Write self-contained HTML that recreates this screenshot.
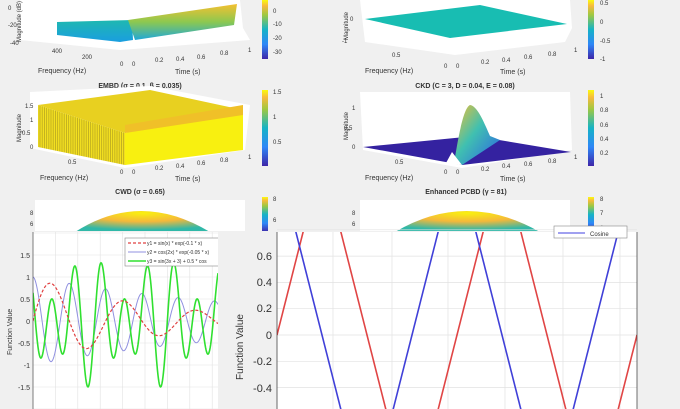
<!DOCTYPE html>
<html><head><meta charset="utf-8"><style>
html,body{margin:0;padding:0;background:#f0f0f0;overflow:hidden;width:680px;height:409px;}
svg{display:block;font-family:"Liberation Sans",sans-serif;}
</style></head><body>
<svg id="s" width="680" height="409" viewBox="0 0 680 409" xmlns="http://www.w3.org/2000/svg">
<defs>
<clipPath id="cpl"><rect x="33" y="232" width="185" height="177"/></clipPath>
<clipPath id="cpr"><rect x="277" y="232" width="360" height="177"/></clipPath>
<linearGradient id="parula" x1="0" y1="1" x2="0" y2="0">
<stop offset="0" stop-color="#3e26a8"/><stop offset="0.25" stop-color="#2e87f7"/><stop offset="0.5" stop-color="#15b3c6"/><stop offset="0.75" stop-color="#a0c840"/><stop offset="0.9" stop-color="#f7ba3d"/><stop offset="1" stop-color="#f9fb0e"/>
</linearGradient>
<linearGradient id="teal" x1="0" y1="0" x2="0" y2="1"><stop offset="0" stop-color="#1fb8b0"/><stop offset="1" stop-color="#1a9ee0"/></linearGradient>
<linearGradient id="orng" x1="0" y1="0" x2="0" y2="1"><stop offset="0" stop-color="#f5c030"/><stop offset="0.5" stop-color="#8cc850"/><stop offset="1" stop-color="#20a8d8"/></linearGradient>
<radialGradient id="dome" cx="0.5" cy="0.1" r="0.8"><stop offset="0" stop-color="#f9f010"/><stop offset="0.5" stop-color="#f5b83a"/><stop offset="1" stop-color="#30b8a8"/></radialGradient>
<linearGradient id="peak" x1="0" y1="0" x2="1" y2="1"><stop offset="0" stop-color="#f5c030"/><stop offset="0.45" stop-color="#40c0b0"/><stop offset="1" stop-color="#2a60e8"/></linearGradient>
<pattern id="stripe" width="2.2" height="10" patternUnits="userSpaceOnUse"><rect width="2.2" height="10" fill="#f4e020"/><rect width="0.8" height="10" fill="#b8a820"/></pattern>
</defs>
<g font-size="6" fill="#333">
<polygon points="20,0 240,0 243,28 250,40 120,50 20,40" fill="#fff"/>
<polygon points="57,22 132,20 133,40 120,42 57,35" fill="url(#teal)"/>
<polygon points="128,20 237,4 234,25 135,40" fill="url(#orng)"/>
<text x="10" y="45">-40</text><text x="8" y="10">0</text><text x="8" y="27">-20</text>
<text x="52" y="53">400</text><text x="82" y="59">200</text><text x="120" y="66">0</text><text x="132" y="66">0</text><text x="155" y="62">0.2</text><text x="176" y="61">0.4</text><text x="197" y="59">0.6</text><text x="220" y="55">0.8</text><text x="248" y="52">1</text>
<text x="38" y="73" font-size="7">Frequency (Hz)</text><text x="175" y="74" font-size="7">Time (s)</text>
<text transform="translate(21,42) rotate(-90)">Magnitude (dB)</text>
<rect x="262" y="0" width="6" height="59" fill="url(#parula)"/>
<text x="273" y="13">0</text><text x="273" y="26">-10</text><text x="273" y="40">-20</text><text x="273" y="54">-30</text>
<polygon points="360,0 570,0 572,28 565,42 455,55 365,42" fill="#fff"/>
<polygon points="365,19 480,5 567,24 450,38" fill="#18bdb2"/>
<text x="342" y="43">-1</text><text x="350" y="21">0</text><text x="392" y="57">0.5</text><text x="444" y="68">0</text><text x="456" y="68">0</text><text x="481" y="64">0.2</text><text x="502" y="62">0.4</text><text x="524" y="59">0.6</text><text x="548" y="56">0.8</text><text x="574" y="52">1</text>
<text x="365" y="73" font-size="7">Frequency (Hz)</text><text x="500" y="74" font-size="7">Time (s)</text>
<text transform="translate(348,40) rotate(-90)">Magnitude</text>
<rect x="588" y="0" width="6" height="59" fill="url(#parula)"/>
<text x="600" y="5">0.5</text><text x="600" y="24">0</text><text x="600" y="43">-0.5</text><text x="600" y="61">-1</text>
<text x="140" y="88" font-size="7" font-weight="bold" text-anchor="middle">EMBD (σ = 0.1, β = 0.035)</text>
<polygon points="30,92 150,86 250,105 245,150 125,168 30,148" fill="#fff"/>
<polygon points="38,105 150,90 243,110 125,133" fill="#e8d020"/>
<polygon points="38,105 125,133 125,165 38,147" fill="url(#stripe)"/>
<polygon points="125,133 243,110 243,150 125,165" fill="#f8f010"/>
<polygon points="125,125 243,105 243,115 125,133" fill="#f0c028"/>
<text x="25" y="108">1.5</text><text x="30" y="122">1</text><text x="22" y="135">0.5</text><text x="30" y="149">0</text>
<text x="68" y="164">0.5</text><text x="120" y="174">0</text><text x="132" y="174">0</text><text x="155" y="170">0.2</text><text x="176" y="168">0.4</text><text x="197" y="165">0.6</text><text x="220" y="162">0.8</text><text x="248" y="159">1</text>
<text x="40" y="180" font-size="7">Frequency (Hz)</text><text x="175" y="181" font-size="7">Time (s)</text>
<text transform="translate(21,142) rotate(-90)">Magnitude</text>
<rect x="262" y="90" width="6" height="76" fill="url(#parula)"/>
<text x="273" y="94">1.5</text><text x="273" y="119">1</text><text x="273" y="144">0.5</text>
<text x="465" y="88" font-size="7" font-weight="bold" text-anchor="middle">CKD (C = 3, D = 0.04, E = 0.08)</text>
<polygon points="360,92 570,92 572,150 462,168 363,150" fill="#fff"/>
<polygon points="363,147 475,136 571,152 462,165" fill="#3422a0"/>
<path d="M454,163 C458,140 463,108 470,105 C478,106 485,125 490,136 L500,140 L462,165 Z" fill="url(#peak)"/>
<polygon points="446,163 452,152 462,165" fill="#fff"/>
<text x="352" y="110">1</text><text x="344" y="130">0.5</text><text x="352" y="149">0</text>
<text x="395" y="164">0.5</text><text x="444" y="174">0</text><text x="456" y="174">0</text><text x="481" y="171">0.2</text><text x="502" y="168">0.4</text><text x="524" y="166">0.6</text><text x="548" y="163">0.8</text><text x="574" y="159">1</text>
<text x="365" y="180" font-size="7">Frequency (Hz)</text><text x="500" y="181" font-size="7">Time (s)</text>
<text transform="translate(348,140) rotate(-90)">Magnitude</text>
<rect x="588" y="90" width="6" height="76" fill="url(#parula)"/>
<text x="600" y="98">1</text><text x="600" y="112">0.8</text><text x="600" y="127">0.6</text><text x="600" y="141">0.4</text><text x="600" y="155">0.2</text>
<text x="140" y="194" font-size="7" font-weight="bold" text-anchor="middle">CWD (σ = 0.65)</text>
<text x="466" y="194" font-size="7" font-weight="bold" text-anchor="middle">Enhanced PCBD (γ = 81)</text>
<rect x="35" y="200" width="210" height="32" fill="#fff"/>
<rect x="360" y="200" width="210" height="32" fill="#fff"/>
<path d="M75,232 Q140,190 210,232 Z" fill="url(#dome)"/>
<path d="M395,232 Q466,190 540,232 Z" fill="url(#dome)"/>
<text x="30" y="215">8</text><text x="30" y="226">6</text><text x="352" y="215">8</text><text x="352" y="226">6</text>
<rect x="262" y="197" width="6" height="35" fill="url(#parula)"/>
<rect x="588" y="197" width="6" height="35" fill="url(#parula)"/>
<text x="273" y="201">8</text><text x="273" y="222">6</text><text x="600" y="201">8</text><text x="600" y="215">7</text><text x="600" y="230">6</text>
</g>
<rect x="0" y="231" width="230" height="178" fill="#f0f0f0"/>
<rect x="33" y="232" width="185" height="177" fill="#fff"/>
<g id="gl" stroke="#e2e2e2" stroke-width="0.6"></g>
<g font-size="7" fill="#333" text-anchor="end">
<text x="30" y="258">1.5</text><text x="30" y="280">1</text><text x="30" y="302">0.5</text><text x="30" y="324">0</text><text x="30" y="346">-0.5</text><text x="30" y="368">-1</text><text x="30" y="390">-1.5</text>
</g>
<text transform="translate(12,355) rotate(-90)" font-size="7" fill="#333">Function Value</text>
<g id="cl" clip-path="url(#cpl)"></g>
<rect x="125" y="238" width="94" height="28" fill="#fff" stroke="#888" stroke-width="0.6"/>
<line x1="128" y1="243" x2="146" y2="243" stroke="#e04040" stroke-width="1.2" stroke-dasharray="3,2"/>
<line x1="128" y1="252" x2="146" y2="252" stroke="#9090e0" stroke-width="1"/>
<line x1="128" y1="261" x2="146" y2="261" stroke="#30e030" stroke-width="1.5"/>
<g font-size="5" fill="#333"><text x="147" y="245">y1 = sin(x) * exp(-0.1 * x)</text><text x="147" y="254">y2 = cos(2x) * exp(-0.05 * x)</text><text x="147" y="263">y3 = sin(3x + 3) + 0.5 * cos</text></g>
<rect x="218" y="231" width="12" height="178" fill="#f0f0f0"/>
<line x1="33" y1="232" x2="33" y2="409" stroke="#333" stroke-width="0.6"/>
<rect x="230" y="231" width="450" height="178" fill="#f0f0f0"/>
<rect x="277" y="232" width="360" height="177" fill="#fff"/>
<g id="gr" stroke="#e2e2e2" stroke-width="0.7"></g>
<g id="cr" clip-path="url(#cpr)"></g>
<rect x="554" y="226" width="73" height="12" fill="#fff" stroke="#888" stroke-width="0.6"/>
<line x1="558" y1="233" x2="585" y2="233" stroke="#4040e0" stroke-width="1"/>
<text x="590" y="236" font-size="6" fill="#333">Cosine</text>
<line x1="277" y1="232" x2="277" y2="409" stroke="#333" stroke-width="0.7"/>
<line x1="637" y1="232" x2="637" y2="409" stroke="#333" stroke-width="0.7"/>
<g font-size="11" fill="#333" text-anchor="end">
<text x="272" y="260">0.6</text><text x="272" y="286">0.4</text><text x="272" y="312">0.2</text><text x="272" y="339">0</text><text x="272" y="365">-0.2</text><text x="272" y="392">-0.4</text>
</g>
<text transform="translate(243,380) rotate(-90)" font-size="10" fill="#333">Function Value</text>
</svg>
<script>
var NS="http://www.w3.org/2000/svg";
function el(p,t,a){var e=document.createElementNS(NS,t);for(var k in a)e.setAttribute(k,a[k]);p.appendChild(e);return e;}
var gl=document.getElementById('gl');
for(var i=0;i<9;i++){var x=33+i*22.4;el(gl,'line',{x1:x,y1:232,x2:x,y2:409});}
for(var v=-2;v<=2;v+=0.5){var y=321-v*44;el(gl,'line',{x1:33,y1:y,x2:218,y2:y});}
var cl=document.getElementById('cl');
function curve(p,f,x0,x1,sx,oy,sy,st){var d="";for(var i=0;i<=400;i++){var t=x0+(x1-x0)*i/400;var X=33+(t-x0)*sx,Y=oy-f(t)*sy;d+=(i?"L":"M")+X.toFixed(2)+","+Y.toFixed(2);}st.d=d;st.fill="none";el(p,'path',st);}
var sx=185/16;
curve(cl,function(t){return Math.cos(2*t)*Math.exp(-0.05*t);},0,16,sx,321,44,{stroke:"#9090e0","stroke-width":1});
curve(cl,function(t){return Math.sin(3*t+3)+0.5*Math.cos(2*t);},0,16,sx,321,44,{stroke:"#30e030","stroke-width":1.6});
curve(cl,function(t){return Math.sin(t)*Math.exp(-0.1*t);},0,16,sx,321,44,{stroke:"#e04040","stroke-width":1.2,"stroke-dasharray":"3,2"});
var gr=document.getElementById('gr');
[277,333,392,448,505,563,620].forEach(function(x){el(gr,'line',{x1:x,y1:232,x2:x,y2:409});});
for(var v=-0.4;v<=0.81;v+=0.2){var y=335-v*131.5;el(gr,'line',{x1:277,y1:y,x2:637,y2:y});}
var cr=document.getElementById('cr');
function tri(ph){var A=1.35,P=180;var pts=[];for(var x=277;x<=637;x+=1){var u=((x-277)/P+ph)%1;if(u<0)u+=1;var v;if(u<0.25)v=4*A*u;else if(u<0.75)v=A-4*A*(u-0.25);else v=-A+4*A*(u-0.75);pts.push(x+","+(335-v*131.5).toFixed(2));}return pts.join(" ");}
el(cr,'polyline',{points:tri(0),fill:"none",stroke:"#e04545","stroke-width":1.6});
el(cr,'polyline',{points:tri(0.25),fill:"none",stroke:"#4040d8","stroke-width":1.6});
</script>
</body></html>
